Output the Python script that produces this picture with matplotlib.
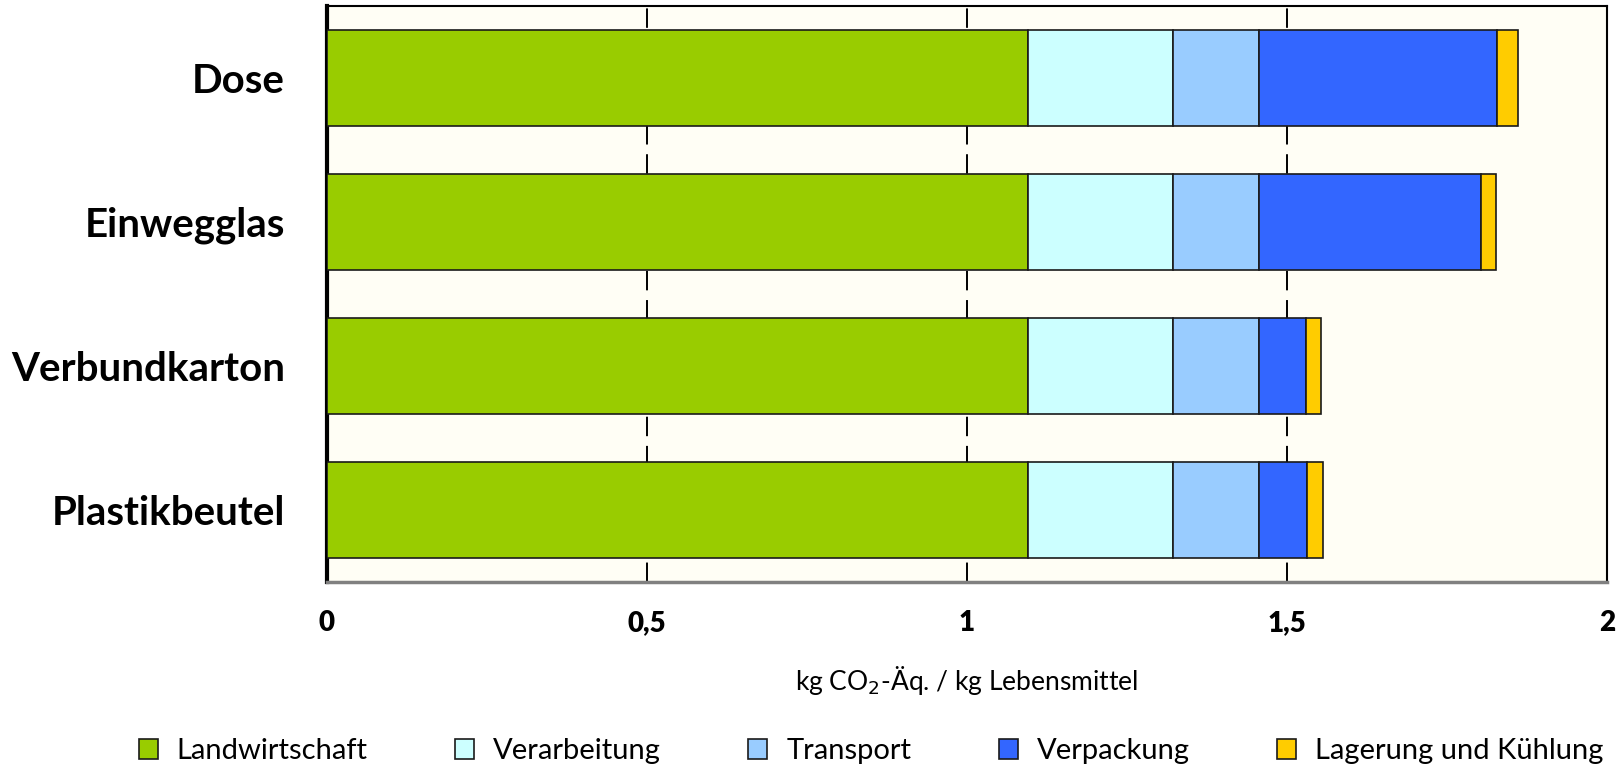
import matplotlib.pyplot as plt
import numpy as np

# --- data ---
categories = ["Dose", "Einwegglas", "Verbundkarton", "Plastikbeutel"]
stages = ["Landwirtschaft", "Verarbeitung", "Transport", "Verpackung",
          "Lagerung und Kühlung"]
landwirtschaft = [1.096, 1.096, 1.096, 1.096]
verarbeitung = [0.227, 0.227, 0.227, 0.227]
transport = [0.134, 0.134, 0.134, 0.134]
verpackung = [0.371, 0.346, 0.073, 0.075]
lagerung = [0.033, 0.024, 0.024, 0.024]
x_ticks = [0, 0.5, 1, 1.5, 2]
x_tick_labels = ["0", "0,5", "1", "1,5", "2"]

colors = ["#99CC00", "#CCFFFF", "#99CCFF", "#3366FF", "#FFCC00"]

plt.rcParams['font.family'] = ['Lato', 'DejaVu Sans']

fig = plt.figure(figsize=(16.22, 7.68), dpi=100)
ax = fig.add_axes([0.2014, 0.2422, 0.7892, 0.75])
ax.set_facecolor("#FFFEF5")

series = [landwirtschaft, verarbeitung, transport, verpackung, lagerung]
y = np.arange(len(categories))
left = np.zeros(len(categories))
for name, vals, col in zip(stages, series, colors):
    ax.barh(y, vals, left=left, height=0.667, color=col, edgecolor="#1a1a1a",
            linewidth=1.2, label=name, zorder=3)
    left += np.array(vals)

ax.set_xlim(0, 2)
ax.set_ylim(len(categories) - 0.5, -0.5)
ax.set_xticks(x_ticks)
ax.set_xticklabels(x_tick_labels, fontsize=20, fontweight="heavy")
ax.set_yticks(y)
ax.set_yticklabels(categories, fontsize=29, fontweight="bold")
ax.tick_params(axis="both", length=0)
ax.tick_params(axis="x", pad=20)
ax.tick_params(axis="y", pad=30)

ax.grid(axis="x", color="black", linestyle=(0, (10, 5)), linewidth=1.4, zorder=1)

for side in ["top", "right"]:
    ax.spines[side].set_color("black")
    ax.spines[side].set_linewidth(1.5)
ax.spines["left"].set_color("black")
ax.spines["left"].set_linewidth(3)
ax.spines["bottom"].set_color("#808080")
ax.spines["bottom"].set_linewidth(2.5)

ax.set_xlabel("kg CO$_2$-Äq. / kg Lebensmittel", fontsize=19, labelpad=20)

handles, labels = ax.get_legend_handles_labels()
fig.legend(handles, labels, loc="center", bbox_to_anchor=(0.537, 0.022),
           ncol=5, frameon=False, fontsize=21, handlelength=0.65,
           handleheight=0.65, handletextpad=0.65, columnspacing=3.0)

fig.savefig("out.png", dpi=100)
